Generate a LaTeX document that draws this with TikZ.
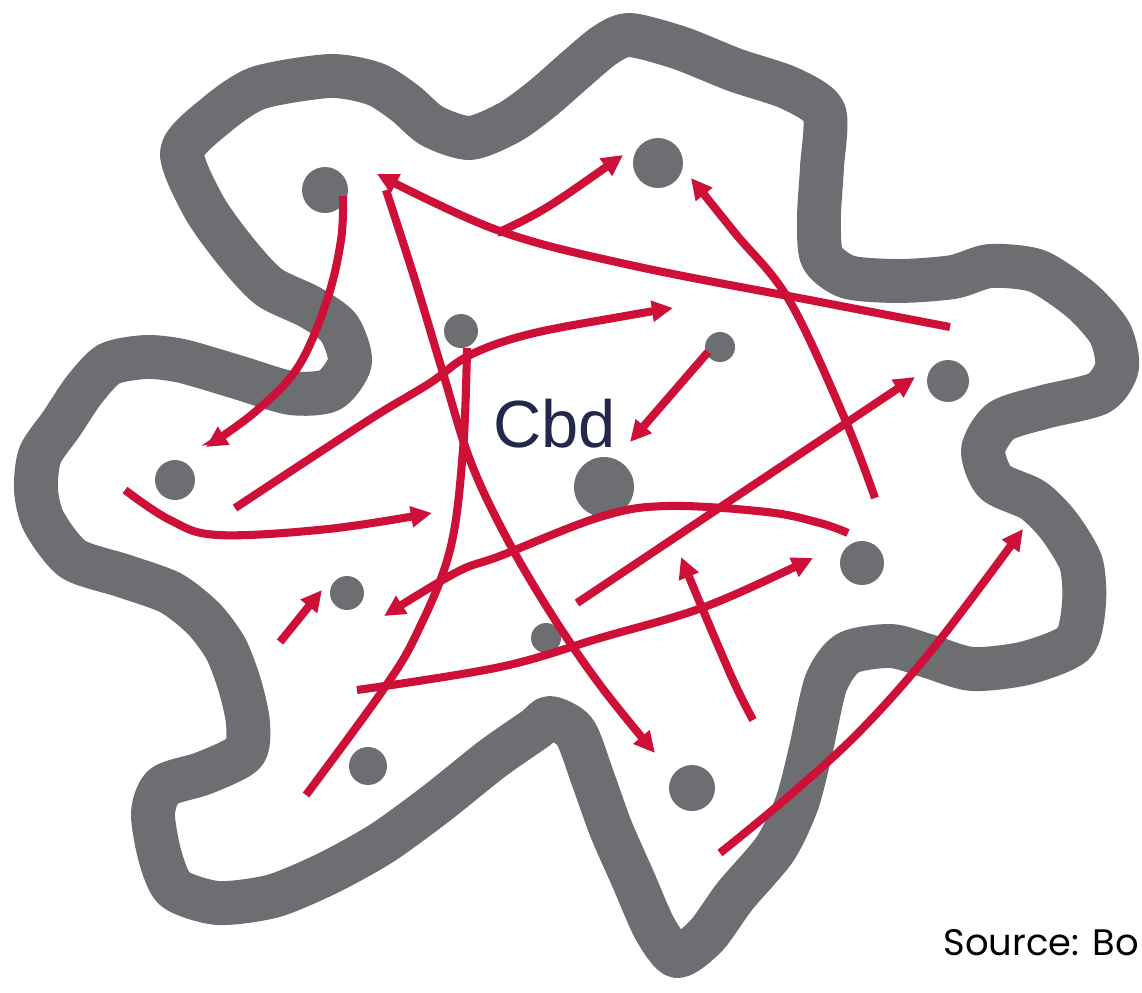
\documentclass[tikz,border=0pt]{standalone}
\usepackage{fontspec}
\newfontfamily\cbdfont{Liberation Sans}
\newfontfamily\srcfont{Poppins}
\usetikzlibrary{arrows.meta}
\definecolor{outlinegray}{RGB}{109,110,113}
\definecolor{flowred}{RGB}{206,16,56}
\definecolor{cbdnavy}{RGB}{35,40,75}
\tikzset{
  boundary/.style={draw=outlinegray, line width=25pt, line join=round, line cap=round},
  hub/.style={circle, fill=outlinegray, inner sep=0pt},
  flow/.style={draw=flowred, line width=4.6pt, -{Triangle[length=12pt,width=11.5pt]}},
  flowline/.style={draw=flowred, line width=4.6pt},
}
\begin{document}
\begin{tikzpicture}[x=0.02cm,y=-0.02cm]
\useasboundingbox[fill=white] (0,0) rectangle (1142,992);

% city boundary
\draw[boundary] plot[smooth cycle, tension=0.45] coordinates {
 (182,152) (215,116) (258,88) (330,76) (375,84) (405,103) (432,126) (470,138)
 (510,122) (543,98) (575,70) (605,45) (630,35) (680,48) (735,70) (789,88)
 (824,112) (822,167) (819,217) (822,257) (848,277) (899,281) (953,277) (990,266)
 (1037,271) (1081,300) (1110,333) (1117,367) (1099,393) (1044,407) (1001,421)
 (983,450) (995,482) (1033,500) (1059,526) (1081,563) (1084,603) (1074,643)
 (1026,663) (972,669) (928,656) (891,646) (848,653) (826,683) (811,749)
 (797,803) (775,849) (735,896) (706,936) (677,956) (655,929) (633,879)
 (611,829) (593,779) (575,732) (550,718) (535,729) (492,759) (437,803)
 (382,843) (328,873) (273,896) (218,903) (175,889) (160,856) (153,813)
 (164,786) (204,773) (244,753) (248,723) (240,686) (226,649) (204,619)
 (171,593) (124,576) (73,559) (44,522) (36,490) (40,455) (62,423) (84,390)
 (109,364) (146,357) (182,361) (237,377) (291,393) (330,390) (350,362)
 (339,328) (310,307) (269,287) (237,253) (204,207)};

% centres
\node[hub, minimum size=0.92cm] (c1) at (325,190) {};
\node[hub, minimum size=1.00cm] (c2) at (658,163) {};
\node[hub, minimum size=0.68cm] (c3) at (461,331) {};
\node[hub, minimum size=0.60cm] (c4) at (720,347) {};
\node[hub, minimum size=0.84cm] (c5) at (948,381) {};
\node[hub, minimum size=0.80cm] (c6) at (175,480) {};
\node[hub, minimum size=1.20cm] (cbdhub) at (604,487) {};
\node[hub, minimum size=0.68cm] (c7) at (347,593) {};
\node[hub, minimum size=0.60cm] (c8) at (546,638) {};
\node[hub, minimum size=0.88cm] (c9) at (862,563) {};
\node[hub, minimum size=0.76cm] (c10) at (368,766) {};
\node[hub, minimum size=0.92cm] (c11) at (692,788) {};

% flows
\draw[flow] plot[smooth, tension=0.6] coordinates {(343,196) (341,240) (327,300) (298,367) (255,412) (206,447)};
\draw[flow] plot[smooth, tension=0.6] coordinates {(950,327) (820,302) (630,265) (497,230) (377,174)};
\draw[flow] plot[smooth, tension=0.6] coordinates {(386,190) (415,280) (443,373) (470,460) (505,535) (550,612) (600,685) (655,753)};
\draw[flow] plot[smooth, tension=0.6] coordinates {(497,233) (530,217) (563,197) (623,155)};
\draw[flow] plot[smooth, tension=0.6] coordinates {(235,508) (323,450) (380,413) (430,383) (470,355) (530,334) (625,316) (673,308)};
\draw[flow] (708,352) -- (630,442);
\draw[flow] plot[smooth, tension=0.6] coordinates {(875,498) (844,417) (789,300) (735,233) (691,178)};
\draw[flow] (577,603) -- (915,377);
\draw[flow] plot[smooth, tension=0.6] coordinates {(125,490) (170,520) (218,535) (328,529) (432,513)};
\draw[flow] (280,642) -- (322,590);
\draw[flow] plot[smooth, tension=0.6] coordinates {(848,533) (820,523) (767,512) (667,506) (600,517) (500,556) (457,572) (384,616)};
\draw[flow] plot[smooth, tension=0.6] coordinates {(357,690) (500,667) (600,638) (707,606) (813,558)};
\draw[flow] plot[smooth, tension=0.6] coordinates {(753,720) (733,680) (700,603) (681,557)};
\draw[flow] plot[smooth, tension=0.6] coordinates {(720,853) (789,796) (862,729) (935,646) (1023,529)};
\draw[flowline] plot[smooth, tension=0.6] coordinates {(467,348) (463,450) (450,550) (417,633) (383,690) (306,795)};

% labels
\node[anchor=base west, inner sep=0pt, text=cbdnavy, font=\cbdfont\fontsize{38}{40}\selectfont] (cbd) at (493,447) {Cbd};
\node[anchor=base east, inner sep=0pt, text=black, font=\srcfont\fontsize{21}{24}\selectfont] (src) at (1139,955) {Source: Bo};
\end{tikzpicture}
\end{document}
